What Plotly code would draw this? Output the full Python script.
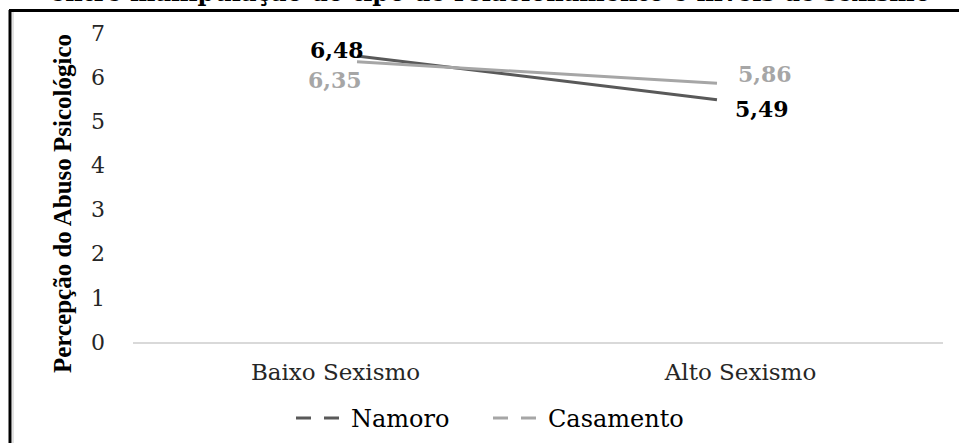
import plotly.graph_objects as go

# ---- data ----
categories = ["Baixo Sexismo", "Alto Sexismo"]
namoro = [6.48, 5.49]
casamento = [6.35, 5.86]
series_names = ["Namoro", "Casamento"]
y_tick_values = [0, 1, 2, 3, 4, 5, 6, 7]
title_text = "entre manipulação do tipo de relacionamento e níveis de sexismo"
y_title = "Percepção do Abuso Psicológico"

# ---- layout geometry (pixels) ----
W, H = 959, 443
L, R, T, B = 133, 16, 33, 101
PW, PH = W - L - R, H - T - B


def px_x(x):
    return (x - L) / PW


def px_y(y):
    return (H - B - y) / PH


SERIF = "DejaVu Serif"
dark = "#595959"
light = "#a6a6a6"

fig = go.Figure()

series = [(series_names[0], namoro, dark, "#000000"),
          (series_names[1], casamento, light, light)]

# visible lines (on the overlaid axis that places the points)
for name, vals, lc, tc in series:
    fig.add_trace(go.Scatter(x=categories, y=vals, mode="lines", name=name,
                             line=dict(color=lc, width=3), xaxis="x2",
                             showlegend=False, hoverinfo="skip"))
# legend entries (dashed symbol), also give the label axis its categories
for name, vals, lc, tc in series:
    fig.add_trace(go.Scatter(x=categories, y=[None] * len(categories),
                             mode="lines", name=name,
                             line=dict(color=lc, width=3, dash="15px,13px"),
                             xaxis="x", showlegend=True, hoverinfo="skip"))

# data labels
offsets = {
    series_names[0]: [(-20, 6), (45, -9)],
    series_names[1]: [(-22, -18), (48, 9)],
}
for name, vals, lc, tc in series:
    for i, (c, v) in enumerate(zip(categories, vals)):
        dx, dy = offsets[name][i]
        fig.add_annotation(x=c, y=v, xref="x2", yref="y",
                           text=f"{v:.2f}".replace(".", ","), showarrow=False,
                           xshift=dx, yshift=dy,
                           font=dict(family=SERIF, size=22, color=tc, weight="bold"))

# cropped title at top
fig.add_annotation(x=px_x(490), y=px_y(-7), xref="paper", yref="paper",
                   text=title_text, showarrow=False, xanchor="center",
                   yanchor="middle",
                   font=dict(family=SERIF, size=24, color="#000000", weight="bold"))

# y axis title
fig.add_annotation(x=px_x(62), y=px_y(204), xref="paper", yref="paper",
                   text=y_title, showarrow=False, textangle=-90,
                   xanchor="center", yanchor="middle",
                   font=dict(family="Liberation Serif", size=25, color="#000000",
                             weight="bold"))

# frame lines
fig.add_shape(type="line", xref="paper", yref="paper",
              x0=px_x(9), x1=px_x(965), y0=px_y(10.5), y1=px_y(10.5),
              line=dict(color="#000000", width=3))
fig.add_shape(type="line", xref="paper", yref="paper",
              x0=px_x(10), x1=px_x(10), y0=px_y(10), y1=px_y(450),
              line=dict(color="#000000", width=3))
fig.add_shape(type="line", xref="paper", yref="paper",
              x0=px_x(13), x1=px_x(13), y0=px_y(12), y1=px_y(450),
              line=dict(color="#d9d9d9", width=1.5))

# point positions: 357 and 717 px
unit = 717 - 357
x2_range = [-(357 - L) / unit, 1 + (L + PW - 717) / unit]

fig.update_layout(
    width=W, height=H,
    margin=dict(l=L, r=R, t=T, b=B, autoexpand=False),
    paper_bgcolor="white", plot_bgcolor="white",
    xaxis=dict(type="category", categoryorder="array", categoryarray=categories,
               range=[-0.5, 1.5],
               showgrid=False, zeroline=False, showline=True,
               linecolor="#d9d9d9", linewidth=2, ticks="",
               ticklabelstandoff=8, automargin=False,
               tickfont=dict(family=SERIF, size=23, color="#262626"),
               fixedrange=True),
    xaxis2=dict(type="category", categoryorder="array", categoryarray=categories,
                range=x2_range, overlaying="x", visible=False,
                fixedrange=True),
    yaxis=dict(range=[0, 7], tickvals=y_tick_values, showgrid=False,
               zeroline=False, showline=False, ticks="",
               ticklabelstandoff=27, automargin=False,
               tickfont=dict(family=SERIF, size=22, color="#262626"),
               fixedrange=True),
    legend=dict(orientation="h", x=px_x(488), xanchor="center",
                y=px_y(396), yanchor="top",
                font=dict(family=SERIF, size=24, color="#000000"),
                itemwidth=50, entrywidth=132, entrywidthmode="pixels",
                bgcolor="rgba(0,0,0,0)"),
    showlegend=True,
)

# remove the browser's default page margin so the figure starts at (0, 0)
fig.write_html("out.html", config={"displayModeBar": False},
               post_script="document.body.style.margin='0px';")
